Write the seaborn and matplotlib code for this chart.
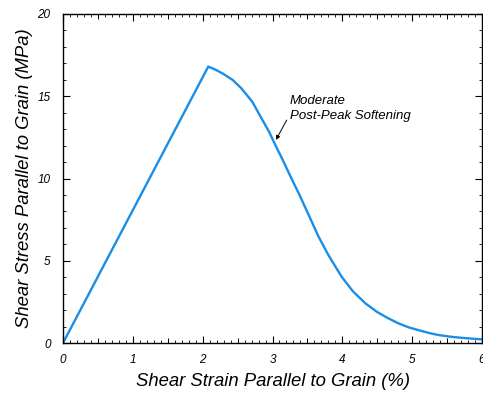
import matplotlib
matplotlib.use("Agg")
import matplotlib.pyplot as plt
import seaborn as sns
import pandas as pd
import numpy as np

# Data
strain = [0.0, 2.08, 2.15, 2.2, 2.3, 2.43, 2.55, 2.71, 2.85, 2.95, 3.04, 3.15, 3.26,
          3.38, 3.5, 3.66, 3.8, 3.9, 3.99, 4.15, 4.33, 4.5, 4.65, 4.80, 4.95, 5.1,
          5.25, 5.37, 5.55, 5.75, 6.0]
stress = [0.0, 16.8, 16.68, 16.58, 16.35, 15.99, 15.5, 14.67, 13.6, 12.85, 12.04, 11.1,
          10.1, 9.06, 7.95, 6.46, 5.35, 4.65, 4.03, 3.15, 2.41, 1.88, 1.52, 1.20, 0.95,
          0.77, 0.60, 0.49, 0.38, 0.30, 0.22]

x_ticks = [0, 1, 2, 3, 4, 5, 6]
y_ticks = [0, 5, 10, 15, 20]

df = pd.DataFrame({"strain": strain, "stress": stress})

sns.set_theme(style="ticks")
plt.rcParams['font.family'] = ['Liberation Sans', 'DejaVu Sans']
plt.rcParams['text.color'] = 'black'
plt.rcParams['axes.labelcolor'] = 'black'
plt.rcParams['xtick.color'] = 'black'
plt.rcParams['ytick.color'] = 'black'

fig = plt.figure(figsize=(4.83, 3.97), dpi=100)
ax = fig.add_axes([63 / 483, (397 - 343) / 397, (482 - 63) / 483, (343 - 14) / 397])

sns.lineplot(data=df, x="strain", y="stress", ax=ax, color="#1a8ee6",
             linewidth=1.7, sort=False)

ax.set_xlim(0, 6)
ax.set_ylim(0, 20)
ax.set_xticks(x_ticks)
ax.set_yticks(y_ticks)
ax.set_xticklabels([str(t) for t in x_ticks], fontstyle="italic", fontsize=8.5)
ax.set_yticklabels([str(t) for t in y_ticks], fontstyle="italic", fontsize=8.5)
ax.xaxis.set_minor_locator(matplotlib.ticker.MultipleLocator(0.1))
ax.yaxis.set_minor_locator(matplotlib.ticker.MultipleLocator(1))
ax.tick_params(which="major", direction="in", length=5, width=0.8,
               top=True, right=True, color="black", labelcolor="black")
ax.tick_params(which="minor", direction="in", length=2.5, width=0.6,
               top=True, right=True, color="black")
ax.tick_params(axis="x", which="major", pad=8)
ax.tick_params(axis="y", which="major", pad=9)

for sp in ax.spines.values():
    sp.set_linewidth(1.0)
    sp.set_color("black")

# medium ticks at half-units on x
for loc in ["bottom", "top"]:
    sec = ax.secondary_xaxis(loc)
    sec.set_xticks(np.arange(0.5, 6, 1.0))
    sec.tick_params(direction="in", length=3.8, width=0.7, labelbottom=False,
                    labeltop=False, color="black")
    sec.spines[loc].set_visible(False)

ax.set_xlabel("Shear Strain Parallel to Grain (%)", fontsize=13.3, fontstyle="italic",
              labelpad=5, color="black")
ax.set_ylabel("Shear Stress Parallel to Grain (MPa)", fontsize=13.3, fontstyle="italic",
              labelpad=3, color="black")

ax.annotate("Moderate\nPost-Peak Softening", xy=(3.05, 12.35), xytext=(3.25, 14.25),
            fontsize=9.5, fontstyle="italic", ha="left", va="center", linespacing=1.35,
            color="black",
            arrowprops=dict(arrowstyle="-|>", color="black", lw=0.7,
                            mutation_scale=6, shrinkA=0, shrinkB=0,
                            relpos=(0, 0.3)))

fig.savefig("out.png", dpi=100)
